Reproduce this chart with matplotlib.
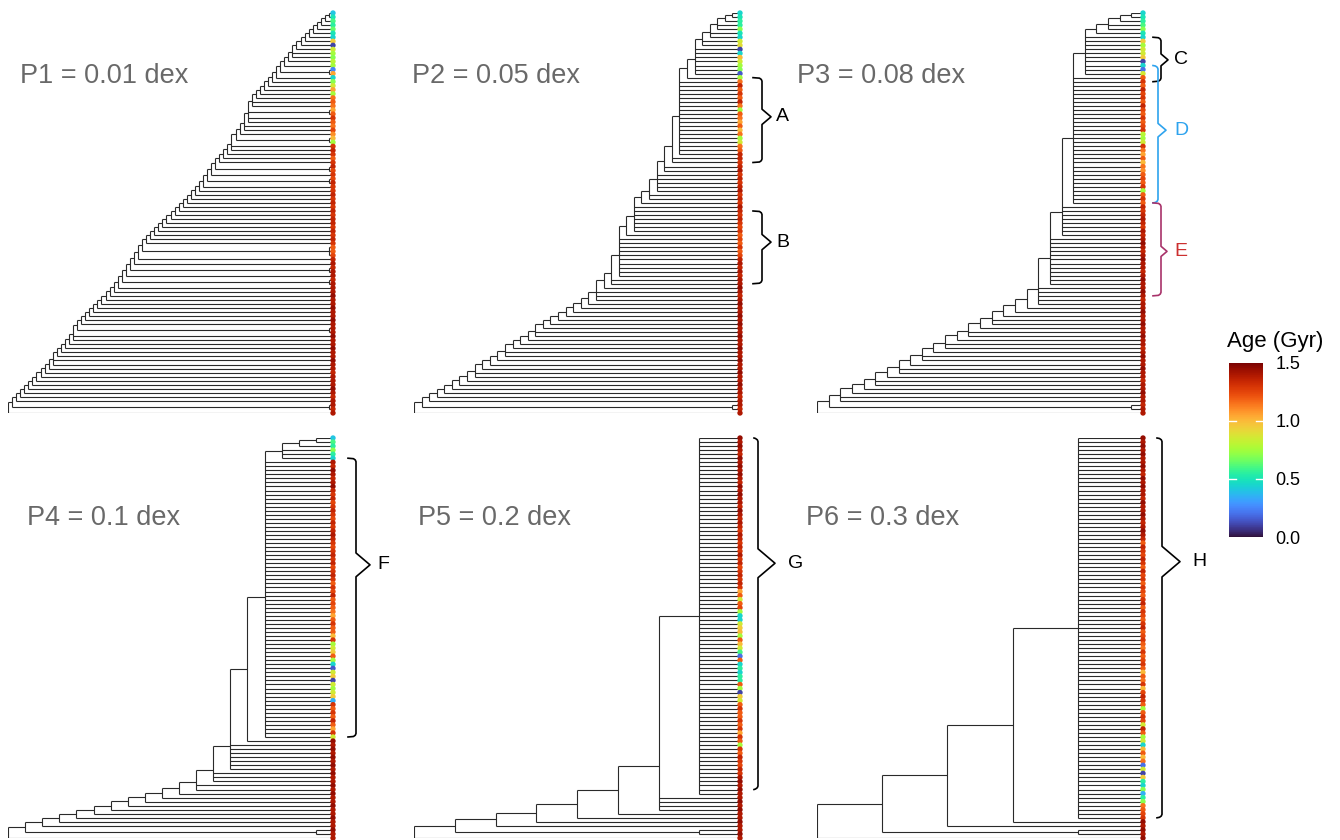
import numpy as np
import matplotlib
matplotlib.use("Agg")
import matplotlib.pyplot as plt
from matplotlib.collections import LineCollection
from matplotlib.colors import Normalize
from matplotlib.colorbar import ColorbarBase

plt.rcParams['font.family'] = ['Liberation Sans', 'DejaVu Sans']

W, H = 1340, 840

titles = ["P1 = 0.01 dex", "P2 = 0.05 dex", "P3 = 0.08 dex",
          "P4 = 0.1 dex", "P5 = 0.2 dex", "P6 = 0.3 dex"]

# merge level between neighbouring tips (tip i and tip i+1), top to bottom
p1_gaps = [1, 2, 3, 4, 5, 6, 7, 8, 9, 10,
           10, 11, 12, 13, 1, 14, 15, 16, 17, 18,
           19, 20, 20, 21, 1, 21, 21, 22, 22, 23,
           24, 1, 25, 25, 26, 27, 28, 29, 1, 30,
           31, 1, 32, 33, 34, 35, 36, 37, 38, 39,
           40, 41, 42, 43, 44, 45, 46, 47, 1, 1,
           48, 49, 50, 1, 51, 52, 1, 53, 54, 55,
           56, 57, 58, 59, 60, 61, 62, 63, 1, 64,
           64, 65, 66, 67, 68, 69, 69, 70, 71, 72,
           73, 74, 75, 76, 77, 78, 79, 1, 80]
p2_gaps = ([1, 2, 3, 3, 4, 4, 5, 5] + [6] * 7 + [7] + [8] * 19 + [9, 9, 10, 10]
           + [11] * 5 + [12, 12, 13] + [14] * 7 + [15] + [16] * 10
           + [17, 17, 18, 19, 19, 19, 20, 21, 22, 23, 24, 25, 26, 27, 27, 28, 29,
              30, 31, 31, 32, 33, 34, 35, 35, 36, 37, 38, 39, 40, 41, 42, 1, 43])
p3_gaps = ([1, 2, 3, 3, 4] + [5] * 10 + [6] * 32 + [7] * 8 + [8] * 12 + [9] * 5
           + [10, 11, 12, 13, 13, 14, 15, 15, 16, 17, 17, 18, 19, 19, 20, 21, 21,
              22, 23, 23, 24, 25, 26, 26, 27, 1, 28])
p4_gaps = ([1, 2, 3, 3, 3] + [4] * 69 + [5] + [6] * 7 + [7] * 3 + [8] * 2
           + [9, 10, 11, 12, 13, 14, 15, 16, 17, 18, 1, 19])
p5_gaps = [1] * 88 + [2] * 4 + [3, 4, 5, 6, 7, 1, 8]
p6_gaps = [1] * 94 + [2, 3, 4, 1, 5]

# tip ages (Gyr), top to bottom
p1_age = [0.4, 0.5, 0.6, 0.55, 0.65, 0.5, 0.45, 0.95, 0.1, 0.85,
          0.75, 0.7, 0.8, 0.75, 0.25, 1.05, 0.45, 0.7, 0.85, 1.05,
          0.75, 1.15, 1.2, 1.15, 1.05, 1.2, 1.3, 1.2, 1.15, 1.25,
          1.1, 1.0, 0.75, 1.3, 1.35, 1.3, 1.2, 1.3, 1.35, 1.25,
          1.3, 1.25, 1.35, 1.3, 1.3, 1.35, 1.3, 1.35, 1.3, 1.35,
          1.3, 1.35, 1.35, 1.3, 1.35, 1.3, 1.35, 1.3, 1.2, 1.2,
          1.25, 1.35, 1.4, 1.35, 1.4, 1.4, 1.35, 1.4, 1.4, 1.4,
          1.45, 1.4, 1.4, 1.45, 1.4, 1.4, 1.45, 1.4, 1.4, 1.4,
          1.45, 1.4, 1.4, 1.45, 1.4, 1.4, 1.45, 1.4, 1.4, 1.35,
          1.4, 1.4, 1.4, 1.45, 1.4, 1.35, 1.4, 1.4, 1.35, 1.4]
p2_age = [0.45, 0.5, 0.55, 0.55, 0.7, 0.5, 0.45, 0.85, 0.9, 0.1,
          0.45, 1.0, 0.85, 0.75, 0.7, 0.15, 0.75, 1.15, 1.35, 1.2,
          1.3, 1.2, 1.35, 1.15, 0.75, 1.2, 1.15, 1.05, 1.2, 1.0,
          1.15, 0.75, 0.85, 1.15, 1.2, 1.35, 1.35, 1.3, 1.35, 1.4,
          1.3, 1.35, 1.3, 1.35, 1.4, 1.3, 1.35, 1.3, 1.4, 1.35,
          1.3, 1.35, 1.3, 1.25, 1.3, 1.2, 1.25, 1.2, 1.3, 1.2,
          1.25, 1.35, 1.4, 1.35, 1.4, 1.35, 1.4, 1.4, 1.45, 1.4,
          1.35, 1.4, 1.45, 1.4, 1.4, 1.45, 1.4, 1.45, 1.4, 1.4,
          1.45, 1.4, 1.4, 1.45, 1.4, 1.4, 1.45, 1.4, 1.4, 1.45,
          1.4, 1.4, 1.45, 1.4, 1.4, 1.35, 1.4, 1.4, 1.35, 1.4]
p3_age = [0.45, 0.5, 0.55, 0.6, 0.7, 0.5, 0.45, 0.95, 0.75, 0.85,
          0.85, 0.95, 0.1, 0.45, 0.2, 0.85, 1.2, 1.3, 1.2, 1.35,
          1.25, 1.3, 1.2, 1.35, 1.25, 1.2, 1.3, 1.2, 1.25, 1.3,
          0.8, 0.75, 0.85, 1.3, 1.15, 1.05, 1.2, 1.0, 1.15, 1.1,
          1.2, 1.25, 1.2, 1.3, 0.75, 1.2, 1.3, 1.2, 1.35, 1.3,
          1.35, 1.4, 1.35, 1.3, 1.4, 1.35, 1.4, 1.45, 1.4, 1.35,
          1.4, 1.45, 1.4, 1.4, 1.35, 1.4, 1.45, 1.4, 1.4, 1.45,
          1.4, 1.35, 1.4, 1.4, 1.45, 1.4, 1.4, 1.45, 1.4, 1.4,
          1.45, 1.4, 1.4, 1.35, 1.4, 1.45, 1.4, 1.4, 1.45, 1.4,
          1.4, 1.35, 1.4, 1.4, 1.45, 1.4, 1.4, 1.35, 1.4, 1.4]
p4_age = [0.4, 0.6, 0.55, 0.7, 0.55, 0.45, 1.4, 1.35, 1.45, 1.4,
          1.35, 1.4, 1.45, 1.35, 1.3, 1.35, 1.25, 1.3, 1.35, 1.3,
          1.25, 1.35, 1.3, 1.35, 1.4, 1.35, 1.3, 1.25, 1.3, 1.35,
          1.3, 1.35, 1.25, 1.3, 1.35, 1.3, 1.2, 1.3, 1.25, 1.35,
          1.2, 1.25, 1.2, 1.15, 1.05, 1.2, 1.3, 1.2, 1.2, 1.0,
          1.3, 0.75, 0.85, 0.95, 1.2, 0.75, 0.45, 0.15, 0.85, 0.95,
          0.1, 0.85, 0.75, 0.85, 0.95, 0.35, 1.3, 1.2, 1.3, 1.2,
          1.35, 1.2, 1.05, 1.3, 0.85, 1.45, 1.4, 1.45, 1.4, 1.45,
          1.4, 1.45, 1.4, 1.45, 1.4, 1.4, 1.45, 1.4, 1.45, 1.4,
          1.4, 1.45, 1.4, 1.4, 1.45, 1.4, 1.4, 1.45, 1.4, 1.4]
p5_age = [1.45, 1.4, 1.45, 1.4, 1.35, 1.45, 1.4, 1.45, 1.4, 1.45,
          1.4, 1.35, 1.45, 1.4, 1.45, 1.4, 1.4, 1.35, 1.45, 1.4,
          1.35, 1.4, 1.35, 1.3, 1.4, 1.35, 1.3, 1.35, 1.3, 1.4,
          1.3, 1.35, 1.25, 1.3, 1.35, 1.3, 1.35, 1.3, 1.05, 1.2,
          0.85, 1.2, 1.25, 0.75, 0.45, 0.45, 0.85, 0.95, 1.0, 0.75,
          1.2, 1.0, 0.85, 0.6, 0.2, 1.2, 0.45, 0.55, 0.45, 0.55,
          0.55, 1.2, 0.75, 0.1, 0.95, 0.85, 1.2, 1.3, 1.2, 1.2,
          1.3, 1.2, 1.3, 1.05, 1.3, 1.2, 0.75, 1.3, 1.2, 1.35,
          1.3, 1.25, 1.35, 1.3, 1.4, 1.45, 1.4, 1.45, 1.4, 1.4,
          1.45, 1.4, 1.45, 1.4, 1.4, 1.45, 1.4, 1.4, 1.45, 1.4]
p6_age = [1.45, 1.4, 1.45, 1.4, 1.45, 1.4, 1.4, 1.45, 1.4, 1.35,
          1.45, 1.4, 1.45, 1.4, 1.4, 1.35, 1.45, 1.4, 1.4, 1.45,
          1.4, 1.35, 1.4, 1.45, 1.4, 1.35, 1.2, 1.35, 1.3, 1.25,
          1.35, 1.3, 1.2, 1.35, 1.25, 1.3, 1.2, 1.3, 1.25, 1.2,
          1.3, 1.35, 1.2, 1.3, 1.25, 1.2, 1.3, 1.35, 1.2, 1.25,
          1.3, 1.2, 1.15, 1.3, 1.2, 1.25, 1.3, 1.2, 1.0, 1.2,
          1.15, 1.3, 1.0, 1.25, 1.35, 1.3, 1.2, 0.75, 1.2, 1.3,
          1.25, 0.85, 1.35, 1.2, 0.75, 0.85, 0.45, 1.0, 1.2, 1.0,
          1.15, 0.2, 0.85, 0.1, 0.95, 0.55, 0.45, 0.7, 0.35, 0.55,
          0.7, 1.15, 1.2, 1.25, 1.3, 1.45, 1.4, 1.45, 1.4, 1.45]

all_gaps = [p1_gaps, p2_gaps, p3_gaps, p4_gaps, p5_gaps, p6_gaps]
all_ages = [p1_age, p2_age, p3_age, p4_age, p5_age, p6_age]

# brackets: panel, first tip, last tip, tip at the brace point, label,
# line colour, label colour
brackets = [(1, 16, 37, 25.7, "A", "black", "black"),
            (1, 49, 67, 56.7, "B", "black", "black"),
            (2, 6, 17, 11.6, "C", "black", "black"),
            (2, 13, 47, 29.0, "D", "#2ea3ee", "#2ea3ee"),
            (2, 47, 70, 59.0, "E", "#a8326a", "#cc3030"),
            (3, 5, 74, 31.4, "F", "black", "black"),
            (4, 0, 87, 31.0, "G", "black", "black"),
            (5, 0, 94, 30.6, "H", "black", "black")]

# layout in pixels
col_x0 = [8, 414, 817]
col_x1 = [333, 740, 1143]
row_y0 = [13, 438]
row_y1 = [413, 838]
title_pos = [(20, 76), (412, 76), (797, 76), (27, 518), (418, 518), (806, 518)]
# hook x, spine x, point x, label x
brace_x = {"A": (753, 762, 771, 776), "B": (753, 762, 771, 776),
           "C": (1153, 1161, 1168, 1174), "D": (1153, 1158, 1166, 1174),
           "E": (1153, 1161, 1167, 1174), "F": (348, 356, 370, 377),
           "G": (754, 758, 775, 788), "H": (1157, 1162, 1180, 1192)}


def build_tree(gaps):
    segs = []

    def node(a, b):
        if a == b:
            return float(a), 0
        top = max(gaps[a:b])
        cuts = [i for i in range(a, b) if gaps[i] == top]
        starts = [a] + [c + 1 for c in cuts]
        ends = cuts + [b]
        kids = [node(s, e) for s, e in zip(starts, ends)]
        lvl = 1 + max(k[1] for k in kids)
        ys = [k[0] for k in kids]
        segs.append([(-lvl, min(ys)), (-lvl, max(ys))])
        for y, l in kids:
            segs.append([(-lvl, y), (-l, y)])
        return float(np.mean(ys)), lvl

    _, root = node(0, len(gaps))
    return segs, root


fig = plt.figure(figsize=(W / 100, H / 100), dpi=100)

for k in range(6):
    r, c = divmod(k, 3)
    x0, x1 = col_x0[c], col_x1[c]
    y0, y1 = row_y0[r], row_y1[r]
    ax = fig.add_axes([x0 / W, 1 - y1 / H, (x1 - x0) / W, (y1 - y0) / H])
    segs, root = build_tree(all_gaps[k])
    ax.add_collection(LineCollection(segs, colors="#2a2a2a", linewidths=0.8))
    n = len(all_ages[k])
    ax.scatter(np.zeros(n), np.arange(n), c=all_ages[k], cmap="turbo",
               vmin=0, vmax=1.5, s=15, linewidths=0, clip_on=False, zorder=3)
    ax.set_xlim(-root, 0)
    ax.set_ylim(n - 1, 0)
    ax.axis("off")
    tx, ty = title_pos[k]
    fig.text(tx / W, 1 - ty / H, titles[k], fontsize=19.5, color="#696969",
             ha="left", va="center")

ov = fig.add_axes([0, 0, 1, 1], zorder=5)
ov.set_xlim(0, W)
ov.set_ylim(H, 0)
ov.axis("off")
ov.patch.set_alpha(0)


def tip_px(panel, i):
    r = panel // 3
    return row_y0[r] + i * (row_y1[r] - row_y0[r]) / 99


for panel, a, b, p, lab, lc, tc in brackets:
    hx, sx, px, lx = brace_x[lab]
    ya, yb, ym = tip_px(panel, a), tip_px(panel, b), tip_px(panel, p)
    m = (px - sx) * 0.85
    pts = [(hx, ya), (sx - 2.5, ya + 0.5), (sx - 0.7, ya + 1.8), (sx, ya + 3.5),
           (sx, ym - m), (px, ym), (sx, ym + m),
           (sx, yb - 3.5), (sx - 0.7, yb - 1.8), (sx - 2.5, yb - 0.5), (hx, yb)]
    xs, ys = zip(*pts)
    ov.plot(xs, ys, color=lc, lw=1.2, solid_joinstyle="round")
    ov.text(lx, ym, lab, fontsize=14, color=tc, ha="left", va="center")

# colour bar
cax = fig.add_axes([1229 / W, 1 - 537 / H, 34 / W, 174 / H])
cb = ColorbarBase(cax, cmap=plt.get_cmap("turbo"), norm=Normalize(0, 1.5),
                  ticks=[0, 0.5, 1.0, 1.5])
cb.outline.set_visible(False)
cb.set_ticklabels(["0.0", "0.5", "1.0", "1.5"])
cax.tick_params(length=0, labelsize=13, pad=9)
for t in [0.5, 1.0]:
    cax.axhline(t, xmin=0, xmax=0.2, color="white", lw=1)
    cax.axhline(t, xmin=0.8, xmax=1, color="white", lw=1)
fig.text(1227 / W, 1 - 342 / H, "Age (Gyr)", fontsize=16, ha="left", va="center")

fig.savefig("out.png", dpi=100)
